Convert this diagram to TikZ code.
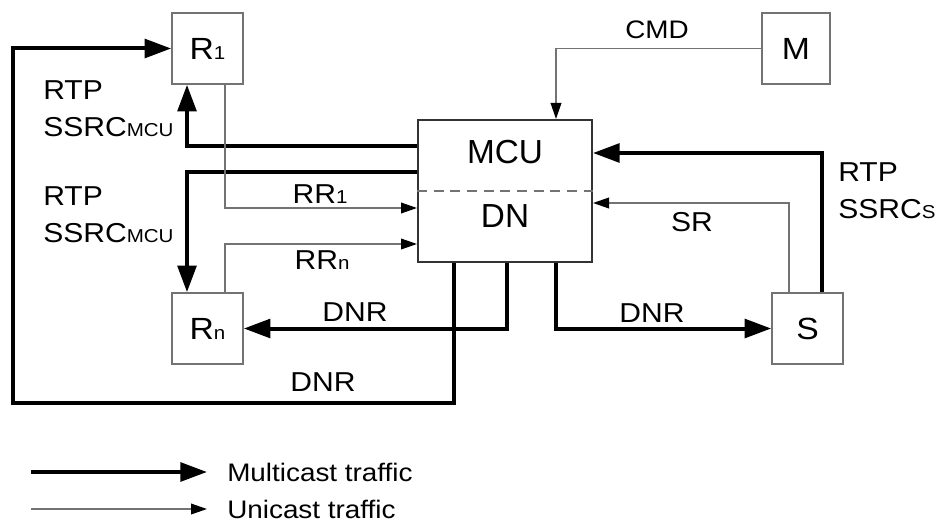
\documentclass[tikz,border=0pt]{standalone}
\usepackage{fontspec}
\setmainfont[FakeStretch=1.1]{Liberation Sans}
\newfontfamily\plainsans{Liberation Sans}
\usetikzlibrary{arrows.meta,calc}
\newcommand{\idx}[1]{{\fontsize{14}{14}\selectfont #1}}
\tikzset{
  unit/.style={draw=black!55, line width=1.2pt, minimum width=53.25pt, minimum height=53.25pt, inner sep=0pt, font=\fontsize{23}{28}\selectfont},
  lbl/.style={inner sep=0pt, align=left, font=\fontsize{20.5}{28}\selectfont},
  leg/.style={inner sep=0pt, font=\fontsize{19}{28}\selectfont},
  big/.style={inner sep=0pt, font=\plainsans\fontsize{25}{25}\selectfont},
  multi/.style={line width=3pt, -{Triangle[length=20pt,width=14pt]}},
  uni/.style={draw=black!55, line width=1.1pt, -{Triangle[length=12pt,width=8pt,color=black]}},
}
\begin{document}
\begin{tikzpicture}[x=0.75pt,y=-0.75pt]
\useasboundingbox (0,0) rectangle (937,524);
% end points
\node[unit] (r1) at (207.5,48.5){R\idx{1}};
\node[unit, minimum width=51pt] (m) at (796,48.5){M};
\node[unit] (rn) at (207.5,328.5){R\idx{n}};
\node[unit] (s) at (807.5,328.5){S};
% the MCU with its DN part
\node[draw=black!80, line width=1.5pt, minimum width=130.5pt, minimum height=106.5pt] (mcu) at (505,191){};
\draw[black!55, line width=1.1pt, dash pattern=on 7.5pt off 5pt] (mcu.west) -- (mcu.east);
\node[big] (mcutxt) at (505,152){MCU};
\node[big] (dntxt) at (505,216){DN};
% multicast
\coordinate (lowleft) at (13,403);
\draw[multi] ($(mcu.south)+(-51,0)$) |- (lowleft) |- (r1.west);
\draw[multi] ($(mcu.west)+(0,-45)$) -| ($(r1.south)+(-20.5,0)$);
\draw[multi] ($(mcu.west)+(0,-19)$) -| ($(rn.north)+(-20.5,0)$);
\draw[multi] ($(mcu.south)+(2,0)$) |- (rn.east);
\draw[multi] ($(mcu.south)+(51,0)$) |- (s.west);
\draw[multi] ($(s.north)+(14.5,0)$) |- ($(mcu.east)+(0,-38)$);
% unicast
\draw[uni] ($(r1.south)+(17.5,0)$) |- ($(mcu.west)+(0,17)$);
\draw[uni] ($(rn.north)+(17.5,0)$) |- ($(mcu.west)+(0,53)$);
\draw[uni] ($(s.north)+(-18.5,0)$) |- ($(mcu.east)+(0,12)$);
\draw[uni] (m.west) -| ($(mcu.north)+(51,0)$);
% labels
\node[leg] (cmd) at (657,30){CMD};
\node[lbl, anchor=west] (rtp1) at (43,108.5){RTP\\SSRC\idx{MCU}};
\node[lbl, anchor=west] (rtp2) at (43,215){RTP\\SSRC\idx{MCU}};
\node[lbl, anchor=west] (rtps) at (838,190.5){RTP\\SSRC\idx{S}};
\node[lbl] (rr1) at (320,194){RR\idx{1}};
\node[lbl] (rrn) at (322,260){RR\idx{n}};
\node[lbl] (sr) at (692,222){SR};
\node[lbl] (dnr1) at (355,312){DNR};
\node[lbl] (dnr2) at (323,382){DNR};
\node[lbl] (dnr3) at (652,313){DNR};
% legend
\node[leg, anchor=west] (legm) at (227,472){Multicast traffic};
\node[leg, anchor=west] (legu) at (227,509){Unicast traffic};
\coordinate (m0) at (31,472);
\coordinate (u0) at (31,509);
\draw[multi] (m0) -- ($(legm.west)+(-20,0)$);
\draw[uni] (u0) -- ($(legu.west)+(-20,0)$);
\end{tikzpicture}
\end{document}
